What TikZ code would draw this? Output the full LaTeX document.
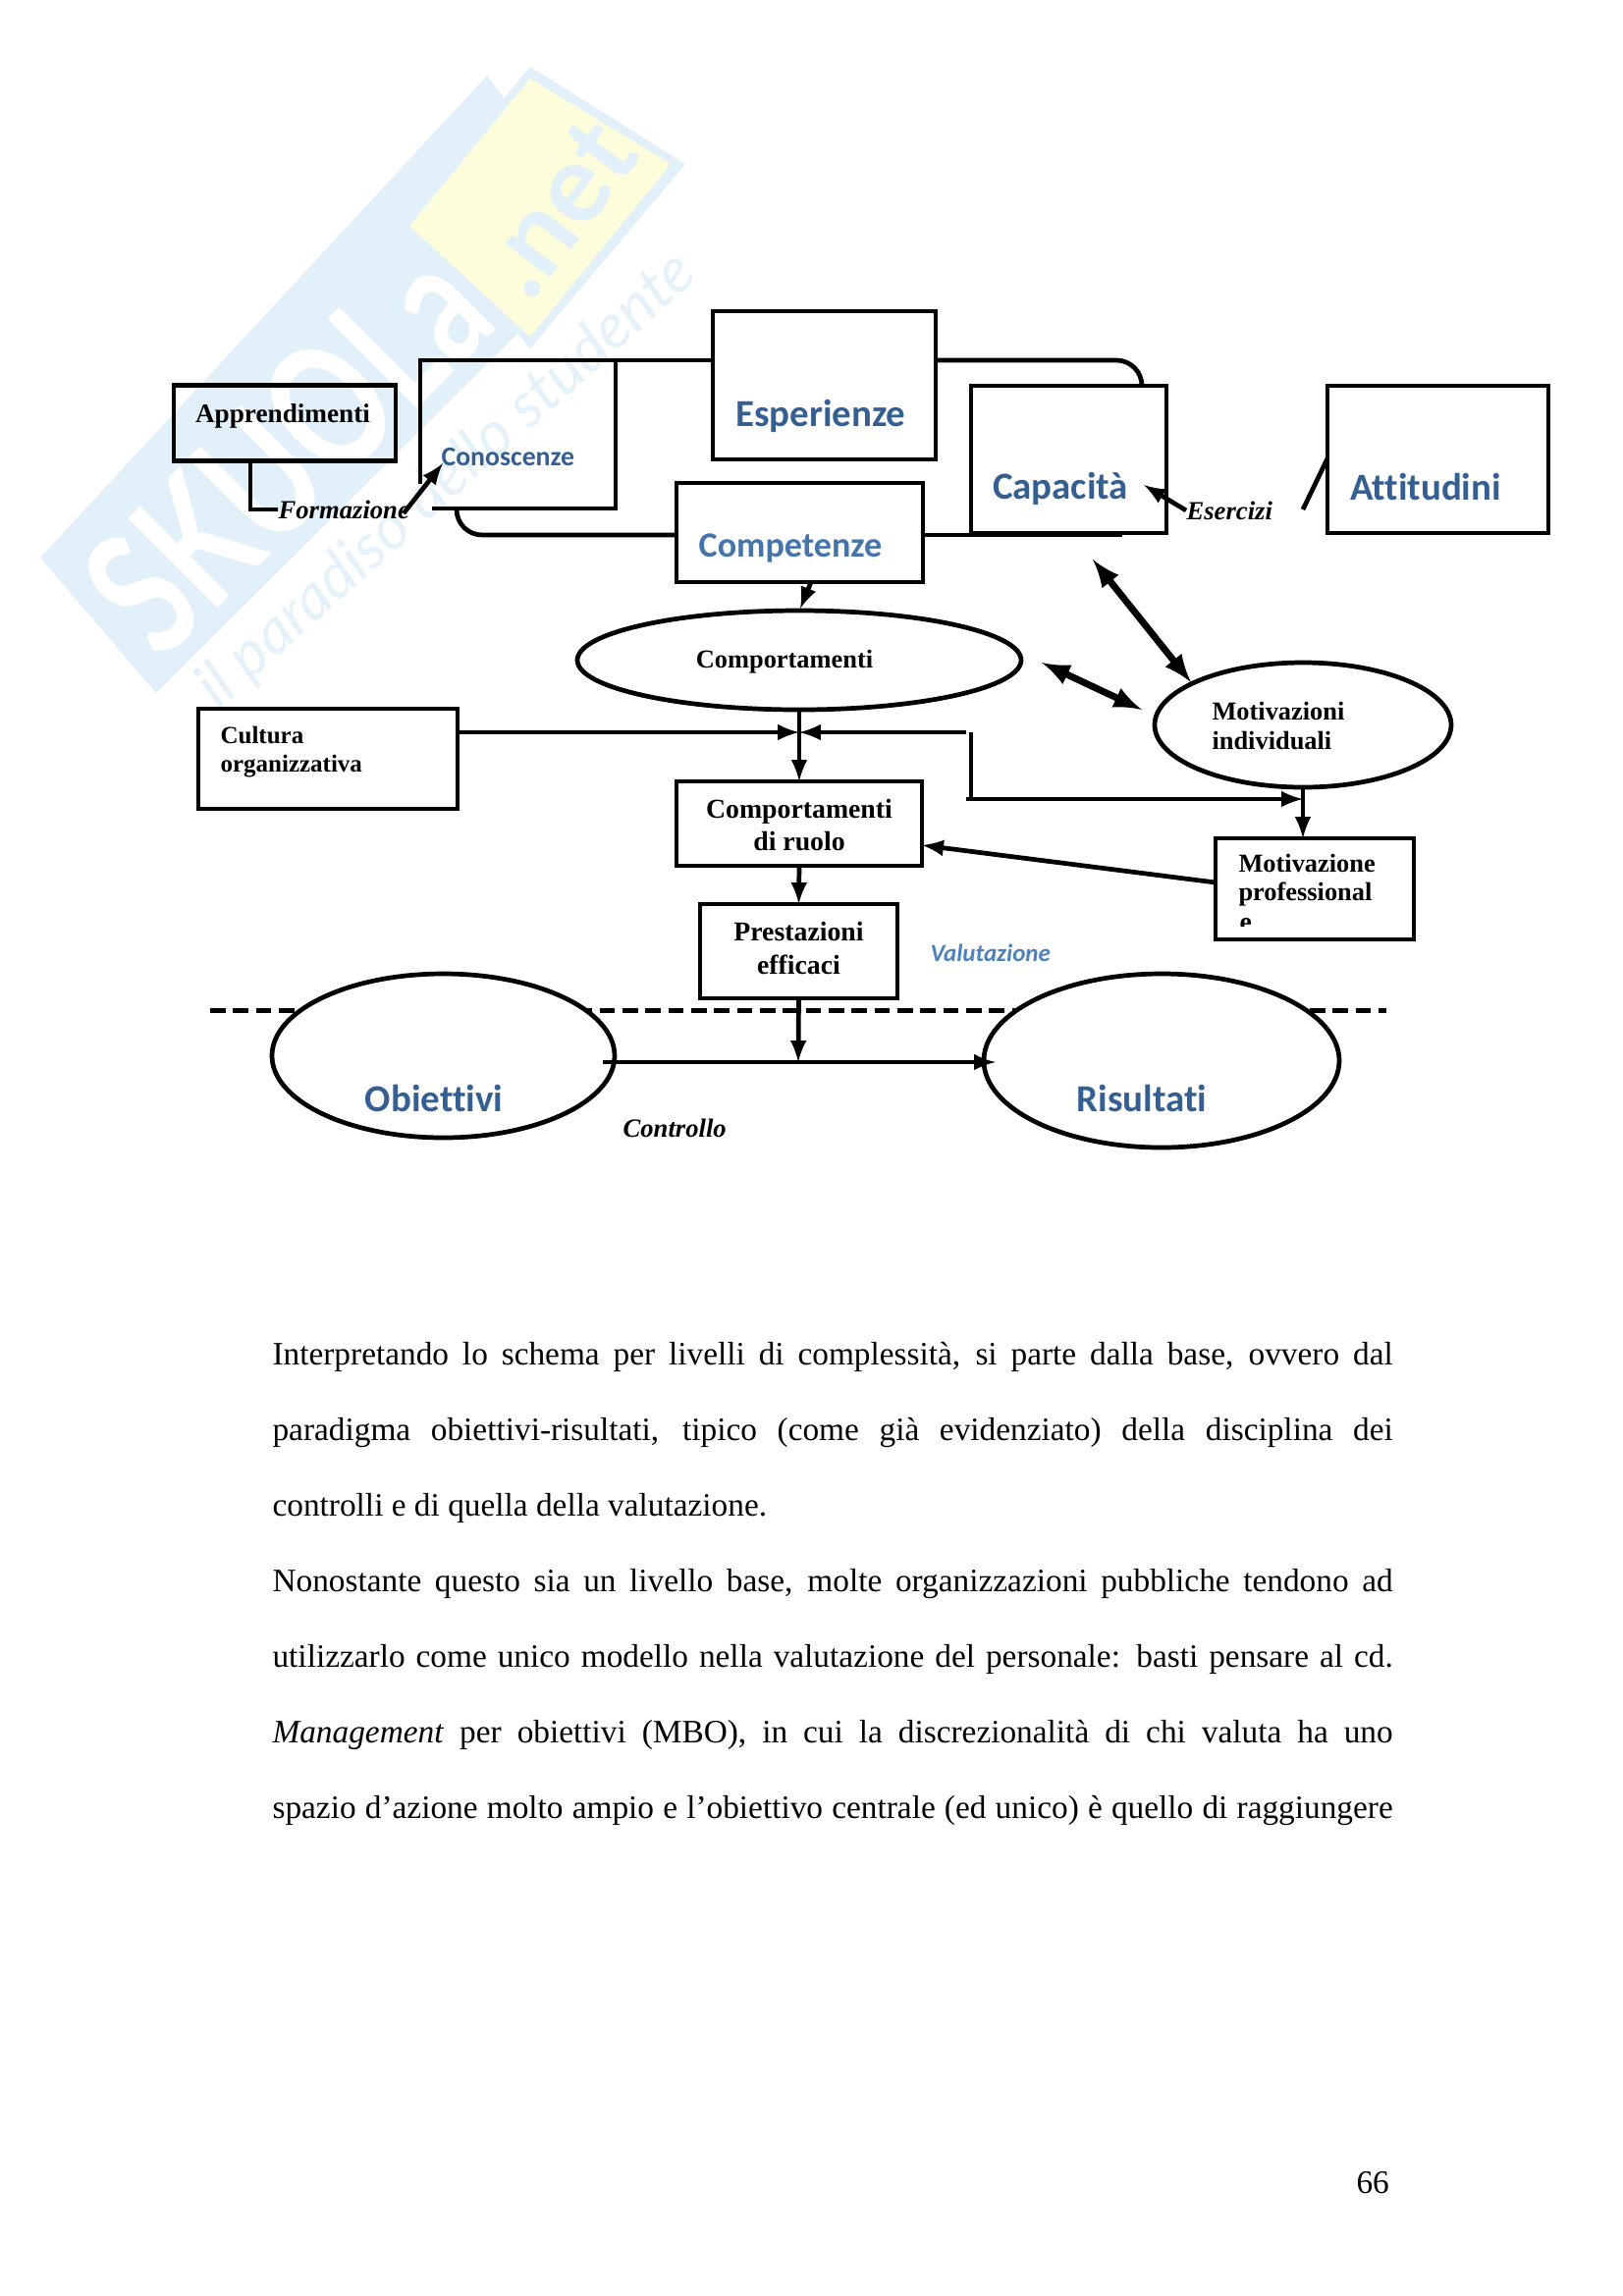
\documentclass[tikz,border=0pt]{standalone}
\usepackage{fontspec}
\setmainfont{Liberation Serif}
\newfontfamily\blufont[Ligatures=NoCommon]{Carlito}
\newfontfamily\markfont{Lato}
\usetikzlibrary{arrows,calc,positioning,shapes.geometric}

\definecolor{labelblue}{HTML}{365F91}
\definecolor{softblue}{HTML}{4F81BD}
\definecolor{markblue}{HTML}{E2F0F9}
\definecolor{markyellow}{HTML}{FDFDDC}

\tikzset{
  boxnode/.style 2 args={draw, rectangle, line width=1.7pt, inner sep=0pt, outer sep=0pt,
    minimum width=#1*0.36pt, minimum height=#2*0.36pt},
  ovalnode/.style 2 args={draw, ellipse, line width=1.7pt, inner sep=0pt, outer sep=0pt,
    minimum width=#1*0.36pt, minimum height=#2*0.36pt},
  boxtext/.style={font=\bfseries\fontsize{10}{12}\selectfont, align=center, inner sep=0pt},
  lefttext/.style={boxtext, font=\bfseries\fontsize{9.5}{10.5}\selectfont, align=left, anchor=west},
  slanttext/.style={font=\bfseries\itshape\fontsize{9.6}{11}\selectfont, inner sep=0pt},
  bluetext/.style={font=\blufont\bfseries\fontsize{#1}{#1}\selectfont, text=labelblue, inner sep=0pt},
  bodytext/.style={font=\fontsize{12}{14}\selectfont, anchor=base west, inner sep=0pt},
  conn/.style={line width=1.7pt},
  fatconn/.style={line width=2.5pt}
}

\newcommand{\bodyline}[1]{\makebox[410.8pt][s]{#1}}

\begin{document}
\begin{tikzpicture}[x=0.36pt,y=-0.36pt]

\useasboundingbox (0,0) rectangle (1653,2339);

% watermark
\fill[markblue] (496,77) -- (41,568) -- (159,706) -- (527,340) -- (540,355) -- (698,167) -- (540,68) -- (513,100) -- cycle;
\fill[markyellow] (540,80) -- (683,167) -- (540,343) -- (417,230) -- cycle;
\node[font=\markfont\bfseries\fontsize{64}{64}\selectfont, text=white, rotate=45, inner sep=0pt] (markname) at (292,458) {\scalebox{0.72}[1]{SKUOLa}};
\node[font=\markfont\bfseries\fontsize{40}{40}\selectfont, text=markblue, rotate=53, inner sep=0pt] (marknet) at (568,212) {.net};
\node[font=\markfont\itshape\fontsize{23}{23}\selectfont, text=markblue!85!white, rotate=42, inner sep=0pt] (markline) at (455,490) {il paradiso dello studente};

% boxes
\node[boxnode={226}{77}] (apprendimenti) at (290,431) {};
\node[boxnode={227}{151}] (esperienze) at (839.5,392.5) {};
\node[boxnode={251}{101}] (competenze) at (814.5,542.5) {};
\node[boxnode={199}{150}] (capacita) at (1088.5,468) {};
\node[boxnode={225}{150}] (attitudini) at (1464.5,468) {};
\node[boxnode={264}{102}] (cultura) at (334,773) {};
\node[boxnode={250}{86}] (ruolo) at (814,839) {};
\node[boxnode={201}{96}] (prestazioni) at (813.5,969) {};
\node[boxnode={202}{103}] (professionale) at (1339,905.5) {};

% ellipses
\node[ovalnode={452}{101}] (comportamenti) at (814,672.5) {};
\node[ovalnode={302}{127}] (individuali) at (1327,738.5) {};

% open box
\coordinate (cnw) at (428,367);
\coordinate (cne) at (627,367);
\coordinate (cse) at (627,518);
\coordinate (csw) at (440,518);
\coordinate (cleft) at (428,493);
\draw[conn] (cleft) -- (cnw) -- (cne) -- (cse) -- (csw);

% lines between the boxes
\coordinate (topin) at (726,367);
\coordinate (topout) at (953,367);
\coordinate (topend) at (1163,393);
\coordinate (lowout) at (465,518);
\coordinate (lowin) at (689,545);
\coordinate (lowright) at (940,545);
\coordinate (lowend) at (1143,545);
\draw[conn] (cne) -- (topin);
\draw[conn, rounded corners=26*0.36pt] (topout) -- (topend |- topout) -- (topend);
\draw[conn, rounded corners=26*0.36pt] (lowout) -- (lowout |- lowin) -- (lowin);
\draw[conn] (lowright) -- (lowend);

% formazione and esercizi
\node[slanttext, anchor=west] (formazione) at (283,519) {Formazione};
\node[slanttext, anchor=west] (esercizi) at (1208,520) {Esercizi};
\coordinate (apdown) at (255,470);
\coordinate (formin) at (411,523);
\coordinate (formtip) at (451,472);
\coordinate (esertip) at (1165,494);
\coordinate (stuba) at (1327,519);
\coordinate (stubb) at (1352,467);
\draw[conn] (apdown) |- (formazione.west);
\draw[conn, -latex] (formin) -- (formtip);
\draw[conn, -latex] (esercizi.west) -- (esertip);
\draw[conn] (stuba) -- (stubb);

% arrows in the middle
\coordinate (compout) at (826,593);
\coordinate (comptip) at (815,620);
\coordinate (capup) at (1113,570);
\coordinate (capdown) at (1213,695);
\coordinate (motup) at (1061,675);
\coordinate (motdown) at (1163,723);
\draw[conn, -latex] (compout) -- (comptip);
\draw[fatconn, latex-latex] (capup) -- (capdown);
\draw[fatconn, latex-latex] (motup) -- (motdown);

\coordinate (cross) at (814,746);
\coordinate (crossright) at (984,746);
\coordinate (elbowtop) at (989,746);
\coordinate (elbowlow) at (989,814);
\coordinate (elbowleft) at (984,814);
\coordinate (elbowtip) at (1327,814);
\draw[conn, -latex] (cultura.east |- cross) -- (cross);
\draw[conn, -latex] (crossright) -- (cross);
\draw[conn, -latex] (comportamenti.south) -- (ruolo.north);
\draw[conn, -latex] (ruolo.south) -- (prestazioni.north);
\draw[conn] (elbowtop) -- (elbowlow);
\draw[conn, -latex] (elbowleft) -- (elbowtip);
\draw[conn, -latex] (individuali.south) -- (individuali.south |- professionale.north);
\coordinate (profout) at (1238,899);
\coordinate (ruolotip) at (939,861);
\draw[conn, -latex] (profout) -- (ruolotip);

% dashed line and big ellipses
\coordinate (dashl) at (214,1029);
\coordinate (dashr) at (1412,1029);
\draw[line width=1.8pt, dash pattern=on 5.6pt off 2.8pt] (dashl) -- (dashr);
\node[ovalnode={349}{167}, fill=white] (obiettivi) at (451.5,1075.5) {};
\node[ovalnode={362}{177}, fill=white] (risultati) at (1183,1080.5) {};
\coordinate (ctrlin) at (614,1082);
\coordinate (ctrltip) at (1014,1082);
\coordinate (ctrlmid) at (813,1082);
\draw[conn, -latex] (ctrlin) -- (ctrltip);
\draw[conn, -latex] (prestazioni.south) -- (ctrlmid);

% labels
\node[boxtext, font=\bfseries\fontsize{9.8}{12}\selectfont] (apprendimentilab) at (288,424) {Apprendimenti};
\node[bluetext=10, anchor=west] (conoscenzelab) at (449,465) {Conoscenze};
\node[bluetext=14] (esperienzelab) at (836,424) {Esperienze};
\node[bluetext=13, text=softblue!60!labelblue] (competenzelab) at (805,558) {Competenze};
\node[bluetext=14] (capacitalab) at (1080,498) {Capacità};
\node[bluetext=14] (attitudinilab) at (1452,496) {Attitudini};
\node[boxtext, font=\bfseries\fontsize{9.5}{12}\selectfont] (comportamentilab) at (799,674) {Comportamenti};
\node[lefttext] (motivazionilab) at (1234,739.5) {Motivazioni\\individuali};
\node[lefttext, font=\bfseries\fontsize{9}{10.7}\selectfont] (culturalab) at (224,766) {Cultura\\organizzativa};
\node[boxtext] (ruololab) at (814,840.5) {Comportamenti\\di ruolo};
\node[boxtext] (prestazionilab) at (813.5,966) {Prestazioni\\efficaci};
\node[lefttext] (professionalelab) at (1261,897) {Motivazione\\professional};
\begin{scope}
\clip (1250,925) rectangle (1300,943);
\node[boxtext, anchor=base west] (letterlab) at (1262,948) {e};
\end{scope}
\node[font=\blufont\bfseries\itshape\fontsize{9}{9}\selectfont, text=softblue, inner sep=0pt, anchor=west] (valutazionelab) at (947,971) {Valutazione};
\node[bluetext=14] (obiettivilab) at (442,1119) {Obiettivi};
\node[bluetext=14] (risultatilab) at (1163,1119) {Risultati};
\node[slanttext, anchor=west] (controllolab) at (634,1149) {Controllo};

% text of the page
\node[bodytext] (lineone) at (277,1390) {\bodyline{Interpretando lo schema per livelli di complessità, si parte dalla base, ovvero dal}};
\node[bodytext] (linetwo) at (277,1467) {\bodyline{paradigma obiettivi-risultati, tipico (come già evidenziato) della disciplina dei}};
\node[bodytext] (linethree) at (277,1544) {controlli e di quella della valutazione.};
\node[bodytext] (linefour) at (277,1621) {\bodyline{Nonostante questo sia un livello base, molte organizzazioni pubbliche tendono ad}};
\node[bodytext] (linefive) at (277,1698) {\bodyline{utilizzarlo come unico modello nella valutazione del personale: basti pensare al cd.}};
\node[bodytext] (linesix) at (277,1775) {\bodyline{\textit{Management} per obiettivi (MBO), in cui la discrezionalità di chi valuta ha uno}};
\node[bodytext] (lineseven) at (277,1852) {\bodyline{spazio d'azione molto ampio e l'obiettivo centrale (ed unico) è quello di raggiungere}};
\node[bodytext] (pagenum) at (1381,2234) {66};

\end{tikzpicture}
\end{document}
